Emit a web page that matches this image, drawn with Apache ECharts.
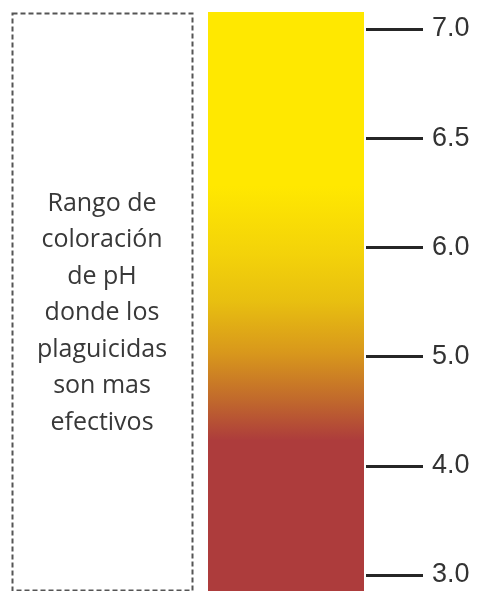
<!DOCTYPE html>
<html><head><meta charset="utf-8">
<script src="https://cdn.jsdelivr.net/npm/echarts@6/dist/echarts.min.js"></script>
<style>html,body{margin:0;padding:0;background:#fff}#c{width:481px;height:591px}</style>
</head><body><div id="c"></div>
<script>
// pH tick labels, bottom to top
const phLabels = ['3.0', '4.0', '5.0', '6.0', '6.5', '7.0'];
// invisible anchor values so the tick axis is not blank
const tickAnchors = [0, 0, 0, 0, 0, 0];
// single bar representing the full scale
const barCategories = ['pH'];
const barValues = [1];
// gradient colours from top (pH 7) to bottom (pH 3)
const gradientStops = [
  { offset: 0, color: '#FFE800' },
  { offset: 0.3, color: '#FFE800' },
  { offset: 0.42, color: '#F3D20A' },
  { offset: 0.5, color: '#E8BF10' },
  { offset: 0.59, color: '#D8971C' },
  { offset: 0.67, color: '#C1692C' },
  { offset: 0.74, color: '#AD3C3C' },
  { offset: 1, color: '#AD3C3C' }
];
const noteLines = ['Rango de', 'coloración', 'de pH', 'donde los', 'plaguicidas', 'son mas', 'efectivos'];

const chart = echarts.init(document.getElementById('c'));
chart.setOption({
  animation: false,
  grid: [
    { left: 208, width: 156, top: 12, bottom: 0 },
    { left: 366, width: 100, top: 29, bottom: 16 }
  ],
  xAxis: [
    { gridIndex: 0, type: 'category', data: barCategories, show: false },
    { gridIndex: 1, type: 'value', min: 0, max: 1, show: false }
  ],
  yAxis: [
    { gridIndex: 0, type: 'value', min: 0, max: 1, show: false },
    {
      gridIndex: 1, type: 'category', data: phLabels, boundaryGap: false,
      position: 'left',
      axisLine: { show: true, lineStyle: { color: 'rgba(0,0,0,0)', width: 0 } },
      axisTick: { show: true, inside: true, interval: 0, length: 57, lineStyle: { color: '#262626', width: 3 } },
      axisLabel: { inside: true, interval: 0, margin: 66, color: '#333', fontSize: 27, fontFamily: 'Liberation Sans' },
      splitLine: { show: false }
    }
  ],
  series: [
    {
      type: 'bar', xAxisIndex: 0, yAxisIndex: 0, data: barValues,
      barWidth: '100%',
      itemStyle: { color: new echarts.graphic.LinearGradient(0, 0, 0, 1, gradientStops) }
    },
    {
      type: 'line', xAxisIndex: 1, yAxisIndex: 1, data: tickAnchors.map((v, i) => [v, phLabels[i]]),
      symbol: 'none', lineStyle: { opacity: 0 }, silent: true
    }
  ],
  graphic: [
    {
      type: 'rect', shape: { x: 12.5, y: 13.5, width: 180, height: 577 },
      style: { fill: 'none', stroke: '#555', lineWidth: 2, lineDash: [5, 3] }
    },
    {
      type: 'text', x: 102, y: 313,
      style: {
        text: noteLines.join('\n'), fill: '#383838', font: '25px "Open Sans"',
        align: 'center', verticalAlign: 'middle', lineHeight: 36.5
      }
    }
  ]
});
</script></body></html>
